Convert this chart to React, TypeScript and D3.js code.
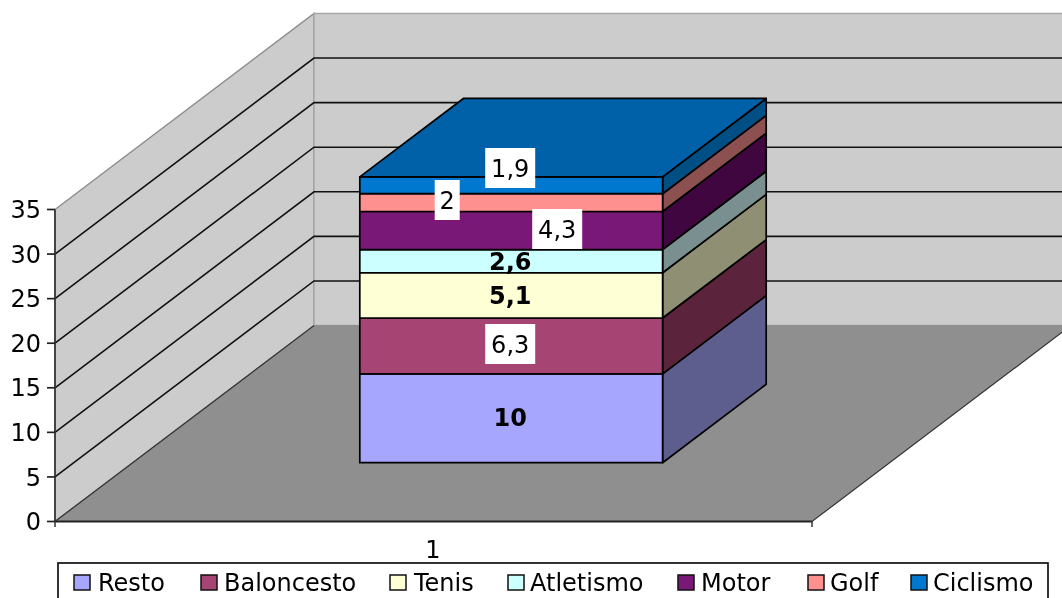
import React from 'react';
import * as d3 from 'd3';

const categories = ['1'];
const seriesNames = ['Resto', 'Baloncesto', 'Tenis', 'Atletismo', 'Motor', 'Golf', 'Ciclismo'];
const seriesValues = [10, 6.3, 5.1, 2.6, 4.3, 2, 1.9];
const valueLabels = ['10', '6,3', '5,1', '2,6', '4,3', '2', '1,9'];
const frontColors = ['#a6a6ff', '#a64573', '#ffffd6', '#ccffff', '#7a1877', '#ff9090', '#0078d0'];
const sideColors = ['#5e5e8e', '#5c233c', '#8f8f73', '#7a9090', '#3f063f', '#8c5050', '#004f84'];
const topColor = '#0061a8';
const yTicks = [0, 5, 10, 15, 20, 25, 30, 35];
const labelBoxed = [false, true, false, false, true, true, true];
const labelDx = [-1, -1, -1, -1, 46, -64, -1];
const labelY = [417, 344, 295, 261, 229, 200, 168];
const legendSwatchX = [74, 201, 390, 508, 678, 808, 911];
const legendTextX = [98, 224, 414, 530, 701, 830, 933];

const font = '"DejaVu Sans", Verdana, sans-serif';
const FS = 24;

const yScale = d3.scaleLinear().domain([0, 35]).range([521.5, 209.5]);
const barScale = d3.scaleLinear().domain([0, 35]).range([521.5, 210.8]);
const xFrac = d3.scaleLinear().domain([0, 1]).range([55, 812]);
const depthX = d3.scaleLinear().domain([0, 1]).range([0, 259]);
const depthY = d3.scaleLinear().domain([0, 1]).range([0, 196]);
const project = (x: number, d: number, v: number): [number, number] => [
  xFrac(x) + depthX(d),
  yScale(v) - depthY(d),
];
const projectBar = (x: number, d: number, v: number): [number, number] => [
  xFrac(x) + depthX(d),
  barScale(v) - depthY(d),
];
const poly = (pts: [number, number][]) => d3.line()(pts)! + 'Z';

const BAR_X0 = 0.3, BAR_X1 = 0.7, BAR_D0 = 0.3, BAR_D1 = 0.7;
const WALL_RIGHT = 1.35;
const stackVals = d3.cumsum(seriesValues);
const stackBase = [0, ...stackVals];

export default function App() {
  const total = stackBase[stackBase.length - 1];
  const cx = (project(BAR_X0, BAR_D0, 0)[0] + project(BAR_X1, BAR_D0, 0)[0]) / 2;
  return (
    <svg
      width={1062}
      height={598}
      style={{ position: 'fixed', left: 0, top: 0, background: '#fff', fontFamily: font, filter: 'blur(0.45px)' }}
    >
      {/* walls */}
      <path d={poly([project(0, 0, 0), project(0, 1, 0), project(0, 1, 35), project(0, 0, 35)])} fill="#cccccc" stroke="#8c8c8c" strokeWidth={1.5} />
      <path d={poly([project(0, 1, 0), project(WALL_RIGHT, 1, 0), project(WALL_RIGHT, 1, 35), project(0, 1, 35)])} fill="#cccccc" stroke="#a8a8a8" strokeWidth={1.5} />
      {/* floor */}
      <path d={poly([project(0, 0, 0), project(1, 0, 0), project(1, 1, 0), project(0, 1, 0)])} fill="#8f8f8f" stroke="#333" strokeWidth={1.2} />
      <path d={d3.line()([project(0, 1, 0), project(WALL_RIGHT, 1, 0)])!} stroke="#8f8f8f" strokeWidth={1} />
      {/* gridlines */}
      {yTicks.filter((t) => t > 0 && t < 35).map((t) => (
        <path key={t} d={d3.line()([project(0, 0, t), project(0, 1, t), project(WALL_RIGHT, 1, t)])!} fill="none" stroke="#111" strokeWidth={1.6} />
      ))}
      {/* stacked block */}
      {seriesValues.map((_, i) => {
        const a = stackBase[i], b = stackBase[i + 1];
        return (
          <g key={i} stroke="#000" strokeWidth={1.7} strokeLinejoin="round">
            <path d={poly([projectBar(BAR_X1, BAR_D0, a), projectBar(BAR_X1, BAR_D1, a), projectBar(BAR_X1, BAR_D1, b), projectBar(BAR_X1, BAR_D0, b)])} fill={sideColors[i]} />
            <path d={poly([projectBar(BAR_X0, BAR_D0, a), projectBar(BAR_X1, BAR_D0, a), projectBar(BAR_X1, BAR_D0, b), projectBar(BAR_X0, BAR_D0, b)])} fill={frontColors[i]} />
          </g>
        );
      })}
      <path
        d={poly([projectBar(BAR_X0, BAR_D0, total), projectBar(BAR_X1, BAR_D0, total), projectBar(BAR_X1, BAR_D1, total), projectBar(BAR_X0, BAR_D1, total)])}
        fill={topColor}
        stroke="#000"
        strokeWidth={1.7}
        strokeLinejoin="round"
      />
      {/* value labels */}
      {valueLabels.map((l, i) => {
        const w = l.length === 1 ? 25 : 50;
        const x = cx + labelDx[i];
        return (
          <g key={i}>
            {labelBoxed[i] && <rect x={x - w / 2} y={labelY[i] - 20} width={w} height={40} fill="#fff" />}
            <text x={x} y={labelY[i]} dy="0.36em" textAnchor="middle" fontSize={FS} fontWeight={labelBoxed[i] ? 400 : 700} fill="#000">
              {l}
            </text>
          </g>
        );
      })}
      {/* axes */}
      <path d={d3.line()([project(0, 0, 0), project(0, 0, 35)])!} stroke="#333" strokeWidth={1.7} />
      {yTicks.map((t) => (
        <g key={t}>
          <line x1={47} x2={55} y1={yScale(t)} y2={yScale(t)} stroke="#222" strokeWidth={1.7} />
          <text x={41} y={yScale(t)} dy="0.36em" textAnchor="end" fontSize={FS} fill="#000">{t}</text>
        </g>
      ))}
      <path d={d3.line()([project(0, 0, 0), project(1, 0, 0)])!} stroke="#222" strokeWidth={2.2} />
      {[0, 1].map((t) => (
        <line key={t} x1={xFrac(t)} x2={xFrac(t)} y1={521} y2={527} stroke="#333" strokeWidth={1.5} />
      ))}
      <text x={433} y={549} dy="0.36em" textAnchor="middle" fontSize={FS} fill="#000">{categories[0]}</text>
      {/* legend */}
      <rect x={58} y={563} width={990} height={50} fill="#fff" stroke="#111" strokeWidth={1.7} />
      {seriesNames.map((n, i) => (
        <g key={n}>
          <rect x={legendSwatchX[i]} y={575} width={16} height={15} fill={frontColors[i]} stroke="#111" strokeWidth={1.5} />
          <text x={legendTextX[i]} y={582} dy="0.36em" fontSize={FS} fill="#000">{n}</text>
        </g>
      ))}
    </svg>
  );
}
